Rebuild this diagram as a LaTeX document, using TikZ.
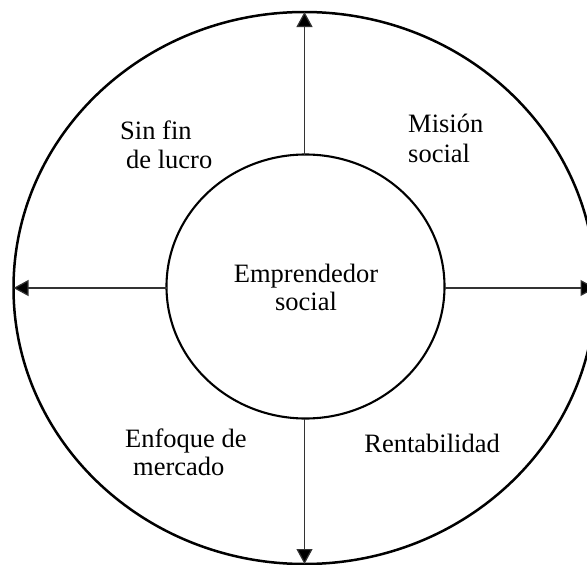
\documentclass[tikz,border=0pt]{standalone}
\usepackage{fontspec}
\setmainfont{Liberation Serif}
\usetikzlibrary{shapes.geometric,arrows.meta}
\begin{document}
\begin{tikzpicture}[x=1pt,y=-1pt,
  ring/.style={draw=black,ellipse,inner sep=0pt,outer sep=0pt},
  spoke/.style={draw=black!80,line width=1.2pt,-{Triangle[length=15pt,width=16pt,fill=black]}},
  lbl/.style={inner sep=0pt,font=\fontsize{26.5}{29}\selectfont}]
\clip (0,0) rectangle (587,565);
\useasboundingbox (0,0) rectangle (587,565);
\node[ring,line width=2.5pt,minimum width=582pt,minimum height=552pt] (outer) at (304.5,288) {};
\node[ring,line width=2.1pt,minimum width=278pt,minimum height=264pt] (inner) at (305.5,286.5) {};
\draw[spoke] (inner.north -| outer.north) -- (outer.north);
\draw[spoke] (inner.south -| outer.south) -- (outer.south);
\draw[spoke] (inner.west |- outer.west) -- (outer.west);
\draw[spoke] (inner.east |- outer.east) -- (outer.east);
\node[lbl,anchor=base west] (s1) at (120,139) {Sin fin};
\node[lbl,anchor=base west] (s2) at (126,168) {de lucro};
\node[lbl,anchor=base west] (m1) at (408,132) {Misión};
\node[lbl,anchor=base west] (m2) at (408,162) {social};
\node[lbl,anchor=base] (e1) at (306,282) {Emprendedor};
\node[lbl,anchor=base] (e2) at (306,310) {social};
\node[lbl,anchor=base west] (f1) at (125,447) {Enfoque de};
\node[lbl,anchor=base west] (f2) at (133,475) {mercado};
\node[lbl,anchor=base east] (r1) at (500,452) {Rentabilidad};
\end{tikzpicture}
\end{document}
